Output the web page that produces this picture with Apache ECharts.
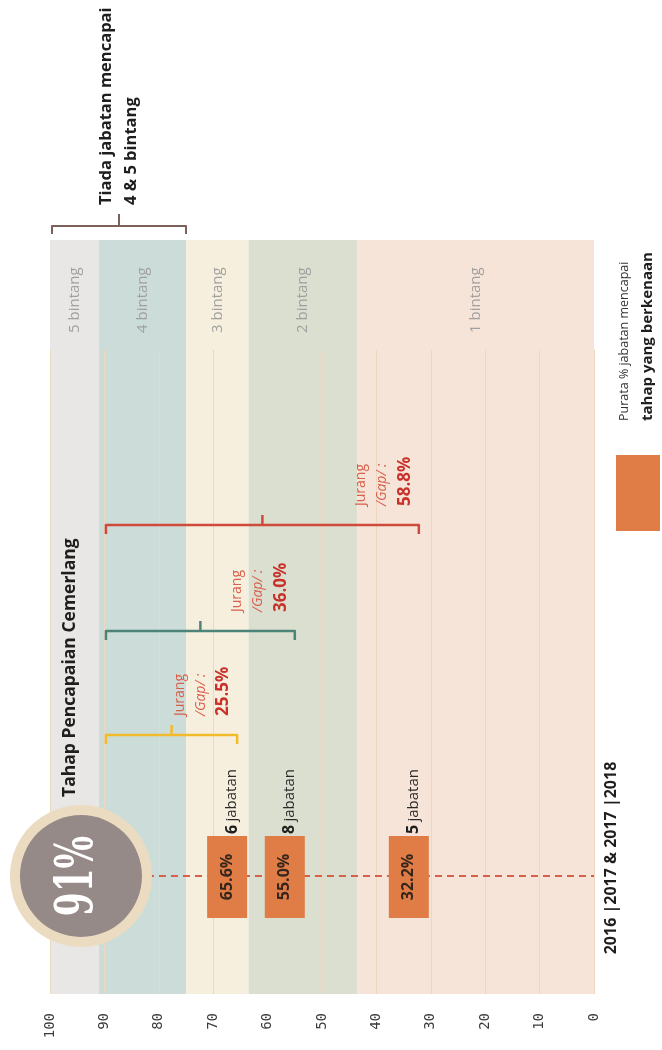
<!DOCTYPE html>
<html><head><meta charset="utf-8">
<script src="https://cdn.jsdelivr.net/npm/echarts@6/dist/echarts.min.js"></script>
<style>html,body{margin:0;padding:0;background:#fff}#c{width:662px;height:1050px}</style>
</head><body><div id="c"></div>
<script>
// ---------------- data ----------------
const tickMin = 0, tickMax = 100, tickStep = 10;
const bandNames = ['5 bintang', '4 bintang', '3 bintang', '2 bintang', '1 bintang'];
const bandLower = [91, 75, 63.5, 43.5, 0];
const bandUpper = [100, 91, 75, 63.5, 43.5];
const categories = ['2016 |2017 & 2017 |2018'];
const targetLabel = 'Tahap Pencapaian Cemerlang';
const targetValue = 91;
const avgValues = [65.6, 55.0, 32.2];
const deptCounts = [6, 8, 5];
const gapValues = [25.5, 36.0, 58.8];
const noteRange = [100, 75];
const noteLines = ['Tiada jabatan mencapai', '4 & 5 bintang'];
const legendLines = ['Purata % jabatan mencapai', 'tahap yang berkenaan'];

// ---------------- styles / layout ----------------
const FONT = "'Open Sans', 'Noto Sans', sans-serif";
const bandColors = ['#e8e7e5', '#cbdcd9', '#f6efde', '#dadfcf', '#f6e4d9'];
const bracketColors = ['#f2bb2c', '#4e8478', '#cf4a3b'];
const bracketY = [735, 631, 525];
const ROT = Math.PI / 2;
const BAND_TOP = 240;
const ROW_Y = 876;
const BOX_W = 40, BOX_H = 82, BOX_SHIFT = -10;
const ORANGE = '#e07c45';

const chart = echarts.init(document.getElementById('c'), null, {renderer: 'canvas'});

function bandItem(params, api) {
  const i = params.dataIndex;
  const xl = api.coord([api.value(1), 0])[0];
  const xr = api.coord([api.value(0), 0])[0];
  const cs = params.coordSys;
  return {type: 'group', children: [
    {type: 'rect', shape: {x: xl, y: BAND_TOP, width: xr - xl, height: cs.y + cs.height - BAND_TOP},
     style: {fill: bandColors[i]}},
    {type: 'text', x: (xl + xr) / 2, y: 333, rotation: ROT,
     style: {text: bandNames[i], fill: '#a0a0a0', fontSize: 15, fontFamily: FONT,
             align: 'left', verticalAlign: 'middle'}}
  ]};
}

function targetItem(params, api) {
  const xt = api.coord([api.value(0), 0])[0];
  const x0 = api.coord([0, 0])[0];
  const cx = xt - 18;
  return {type: 'group', children: [
    {type: 'line', shape: {x1: xt, y1: ROW_Y, x2: x0, y2: ROW_Y},
     style: {stroke: '#d6604a', lineWidth: 2, lineDash: [7, 5]}},
    {type: 'circle', shape: {cx: cx, cy: ROW_Y, r: 71}, style: {fill: '#ebdcc1'}},
    {type: 'circle', shape: {cx: cx, cy: ROW_Y, r: 61}, style: {fill: '#968a88'}},
    {type: 'text', x: cx - 2, y: ROW_Y, rotation: ROT, scaleX: 0.66, scaleY: 1,
     style: {text: api.value(0) + '%', fill: '#ffffff', fontSize: 52, fontWeight: 'bold',
             fontFamily: "'DejaVu Serif', serif", align: 'center', verticalAlign: 'middle'}},
    {type: 'text', x: xt - 29, y: 797, rotation: ROT,
     style: {text: targetLabel, fill: '#1e1e1e', fontSize: 17.5, fontWeight: 'bold', fontFamily: FONT,
             align: 'left', verticalAlign: 'middle'}},
    {type: 'text', x: x0 + 17, y: ROW_Y - 18, rotation: ROT,
     style: {text: categories[0], fill: '#1e1e1e', fontSize: 16, fontWeight: 'bold', fontFamily: FONT,
             align: 'center', verticalAlign: 'middle'}}
  ]};
}

function boxItem(params, api) {
  const cx = api.coord([api.value(0), 0])[0] + BOX_SHIFT;
  const top = ROW_Y - BOX_H / 2 + 1;
  return {type: 'group', children: [
    {type: 'rect', shape: {x: cx - BOX_W / 2, y: top, width: BOX_W, height: BOX_H}, style: {fill: ORANGE}},
    {type: 'text', x: cx, y: top + BOX_H / 2, rotation: ROT,
     style: {text: api.value(0).toFixed(1) + '%', fill: '#35261d', fontSize: 16, fontWeight: 'bold',
             fontFamily: FONT, align: 'center', verticalAlign: 'middle'}},
    {type: 'text', x: cx + 5, y: top - 2, rotation: ROT,
     style: {text: '{n|' + api.value(1) + '} {t|jabatan}', align: 'left', verticalAlign: 'middle',
             rich: {n: {fontSize: 16, fontWeight: 'bold', fill: '#1e1e1e', fontFamily: FONT},
                    t: {fontSize: 15, fill: '#2a2a2a', fontFamily: FONT}}}}
  ]};
}

function bracketItem(params, api) {
  const i = params.dataIndex;
  const xs = api.coord([api.value(1), 0])[0] + 7;
  const xe = api.coord([api.value(0), 0])[0];
  const y = bracketY[i];
  const c = bracketColors[i];
  const xm = (xs + xe) / 2;
  return {type: 'group', children: [
    {type: 'polyline', shape: {points: [[xs, y + 9], [xs, y], [xe, y], [xe, y + 9]]},
     style: {stroke: c, lineWidth: 2.5, fill: null, lineJoin: 'round'}},
    {type: 'line', shape: {x1: xm, y1: y, x2: xm, y2: y - 10}, style: {stroke: c, lineWidth: 2.5}},
    {type: 'text', x: xe - 2, y: y - 19, rotation: ROT,
     style: {text: '{a|Jurang}\n{b|/Gap/ :}\n{c|' + api.value(2).toFixed(1) + '%}',
             align: 'left', verticalAlign: 'bottom',
             rich: {a: {fontSize: 14, fill: '#d9604c', lineHeight: 21, fontFamily: FONT},
                    b: {fontSize: 14, fill: '#d9604c', fontStyle: 'italic', lineHeight: 21, fontFamily: FONT},
                    c: {fontSize: 17, fontWeight: 'bold', fill: '#c8322b', lineHeight: 24, fontFamily: FONT}}}}
  ]};
}

function noteItem(params, api) {
  const xs = api.coord([api.value(0), 0])[0] + 2;
  const xe = api.coord([api.value(1), 0])[0];
  const y = 226;
  const c = '#7b6158';
  const xm = (xs + xe) / 2;
  return {type: 'group', children: [
    {type: 'polyline', shape: {points: [[xs, y + 8], [xs, y], [xe, y], [xe, y + 8]]},
     style: {stroke: c, lineWidth: 2, fill: null, lineJoin: 'round'}},
    {type: 'line', shape: {x1: xm, y1: y, x2: xm, y2: y - 12}, style: {stroke: c, lineWidth: 2}},
    {type: 'text', x: xm, y: 205, rotation: ROT,
     style: {text: noteLines.join('\n'), fill: '#1e1e1e', fontSize: 16.5, fontWeight: 'bold', lineHeight: 25,
             fontFamily: FONT, align: 'left', verticalAlign: 'middle'}}
  ]};
}

const option = {
  animation: false,
  backgroundColor: '#ffffff',
  grid: {left: 50, right: 68, top: 350, bottom: 56},
  xAxis: {
    type: 'value', min: tickMin, max: tickMax, interval: tickStep, inverse: true, position: 'bottom', z: 1,
    axisLine: {show: false}, axisTick: {show: false},
    splitLine: {show: true, lineStyle: {color: '#ebd8bf', width: 1}},
    axisLabel: {rotate: 90, margin: 19, fontSize: 14, color: '#3a3a3a', fontFamily: "'DejaVu Sans Mono', monospace"}
  },
  yAxis: {type: 'value', min: 0, max: 1, show: false},
  graphic: [
    {type: 'rect', shape: {x: 616, y: 455, width: 44, height: 76}, style: {fill: ORANGE}},
    {type: 'text', x: 636, y: 421, rotation: ROT,
     style: {text: '{a|' + legendLines[0] + '}\n{b|' + legendLines[1] + '}', align: 'left', verticalAlign: 'middle',
             rich: {a: {fontSize: 12.5, fill: '#333', lineHeight: 23, fontFamily: FONT},
                    b: {fontSize: 15, fontWeight: 'bold', fill: '#1e1e1e', lineHeight: 23, fontFamily: FONT}}}}
  ],
  series: [
    {type: 'custom', z: 0, silent: true, renderItem: bandItem,
     data: bandNames.map((n, i) => [bandLower[i], bandUpper[i]])},
    {type: 'custom', z: 3, silent: true, renderItem: targetItem, data: [[targetValue]]},
    {type: 'custom', z: 4, silent: true, renderItem: boxItem,
     data: avgValues.map((v, i) => [v, deptCounts[i]])},
    {type: 'custom', z: 3, silent: true, renderItem: bracketItem,
     data: avgValues.map((v, i) => [v, targetValue, gapValues[i]])},
    {type: 'custom', z: 3, silent: true, renderItem: noteItem, data: [noteRange]}
  ]
};
chart.setOption(option);
</script></body></html>
